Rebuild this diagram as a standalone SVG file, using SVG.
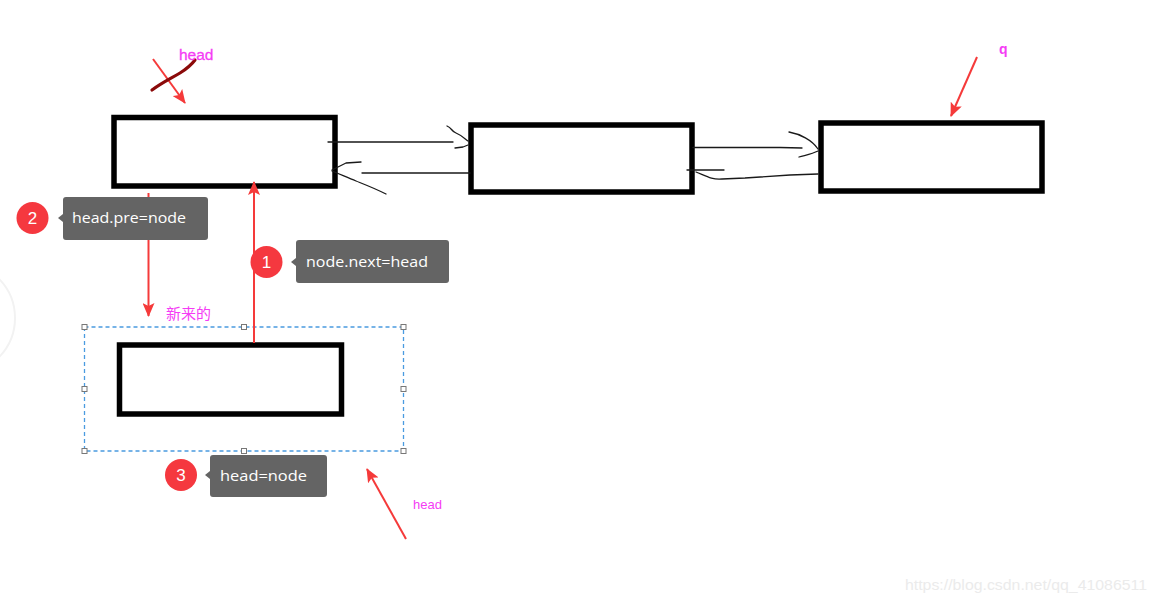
<svg xmlns="http://www.w3.org/2000/svg" width="1155" height="602" viewBox="0 0 1155 602">
<defs>
<style>
.box{fill:#fff;stroke:#000;stroke-width:5.5}
.ink{fill:none;stroke:#1a1a1a;stroke-width:1.3;stroke-linecap:round;stroke-linejoin:round}
.red{fill:none;stroke:#f53a3a;stroke-width:2}
.mag{fill:#f53cf5;font-family:"Liberation Sans","Noto Sans CJK SC",sans-serif}
.tip{fill:#646464}
.num{fill:#f5383f}
.tt{fill:#fff;font-family:"Open Sans","Liberation Sans",sans-serif;font-size:15px}
.nt{fill:#fff;font-family:"Liberation Sans",sans-serif;font-size:17px;text-anchor:middle}
.sel{fill:none;stroke:#4a9be0;stroke-width:1.3;stroke-dasharray:4 3}
.hdl{fill:#fff;stroke:#777;stroke-width:1}
</style>
<marker id="ah" viewBox="0 0 14 12" refX="13" refY="6" markerWidth="14" markerHeight="12" markerUnits="userSpaceOnUse" orient="auto">
<path d="M0,0 L14,6 L0,12 L3,6 z" fill="#f53a3a"/>
</marker>
</defs>
<rect width="1155" height="602" fill="#fff"/>
<circle cx="-41" cy="318" r="56" fill="none" stroke="#f2f2f2" stroke-width="2"/>

<g id="node-head">
<rect class="box" x="114" y="117.5" width="221" height="68.5"/>
</g>
<g id="node-2">
<rect class="box" x="471" y="125" width="221" height="67"/>
</g>
<g id="node-q">
<rect class="box" x="821" y="123" width="221" height="68"/>
</g>
<g id="node-new">
<rect class="sel" x="84.5" y="327" width="319" height="124"/>
<rect class="box" x="119.5" y="345" width="222" height="69"/>
<g class="hdl">
<rect x="82" y="324.5" width="5" height="5"/><rect x="241.5" y="324.5" width="5" height="5"/><rect x="401" y="324.5" width="5" height="5"/>
<rect x="82" y="386.5" width="5" height="5"/><rect x="401" y="386.5" width="5" height="5"/>
<rect x="82" y="448.5" width="5" height="5"/><rect x="241.5" y="448.5" width="5" height="5"/><rect x="401" y="448.5" width="5" height="5"/>
</g>
<text class="mag" x="166" y="319" font-size="15">新来的</text>
</g>

<g id="connectors">
<path class="ink" d="M328,142 L453,142"/>
<path class="ink" d="M447,126 C452,128 451,131 456,133 C461,135 464,138 468,141"/>
<path class="ink" d="M455,148 L463,147 L468,145"/>
<path class="ink" d="M362,173 L470,173"/>
<path class="ink" d="M361,162 L346,163 L332,170"/>
<path class="ink" d="M332,171 C342,175 348,178 356,181 C366,185 374,188 386,194"/>
<path class="ink" d="M693,147.5 L780,147.5 L802,148"/>
<path class="ink" d="M789,132 C800,134 812,140 818,149"/>
<path class="ink" d="M799,157 C806,155 812,154 818,151"/>
<path class="ink" d="M687,170 L724,170"/>
<path class="ink" d="M696,172 C706,176 712,180 722,179 L745,178 L790,175 L818,174"/>

<path class="red" d="M153,59 L185,103" marker-end="url(#ah)"/>
<path d="M152,90 C163,82 170,79 180,73 C188,68 192,64 195,60" fill="none" stroke="#8b0a0a" stroke-width="3.2" stroke-linecap="round"/>
<path class="red" d="M977,57 L951,116" marker-end="url(#ah)"/>
<path class="red" d="M148.5,193 L148.5,316" marker-end="url(#ah)" stroke-width="1.8"/>
<path class="red" d="M254,343 L254,182" marker-end="url(#ah)" stroke-width="1.8"/>
<path class="red" d="M406,539 L367,469" marker-end="url(#ah)" stroke-width="1.8"/>
</g>

<text class="mag" x="179" y="60" font-size="15.5" stroke="#f53cf5" stroke-width="0.3">head</text>
<text class="mag" x="999" y="54" font-size="14" font-weight="bold">q</text>
<text class="mag" x="413" y="509" font-size="13">head</text>

<g id="callout-2">
<circle class="num" cx="32.5" cy="218" r="16"/>
<text class="nt" x="32.5" y="224">2</text>
<path class="tip" d="M66,197 L205,197 Q208,197 208,200 L208,237 Q208,240 205,240 L66,240 Q63,240 63,237 L63,222 L58,218 L63,214 L63,200 Q63,197 66,197 z"/>
<text class="tt" x="72" y="223" textLength="114" lengthAdjust="spacingAndGlyphs">head.pre=node</text>
</g>
<g id="callout-1">
<circle class="num" cx="266.5" cy="262" r="16"/>
<text class="nt" x="266.5" y="268">1</text>
<path class="tip" d="M299,240 L446,240 Q449,240 449,243 L449,280 Q449,283 446,283 L299,283 Q296,283 296,280 L296,266 L291,262 L296,258 L296,243 Q296,240 299,240 z"/>
<text class="tt" x="306" y="267" textLength="122" lengthAdjust="spacingAndGlyphs">node.next=head</text>
</g>
<g id="callout-3">
<circle class="num" cx="181" cy="475" r="16"/>
<text class="nt" x="181" y="481">3</text>
<path class="tip" d="M213,455 L324,455 Q327,455 327,458 L327,494 Q327,497 324,497 L213,497 Q210,497 210,494 L210,479 L205,475 L210,471 L210,458 Q210,455 213,455 z"/>
<text class="tt" x="220" y="481" textLength="87" lengthAdjust="spacingAndGlyphs">head=node</text>
</g>

<text x="905" y="590" font-family="Liberation Sans,sans-serif" font-size="15.5" fill="#ebebeb" textLength="242" lengthAdjust="spacingAndGlyphs">https://blog.csdn.net/qq_41086511</text>
</svg>
